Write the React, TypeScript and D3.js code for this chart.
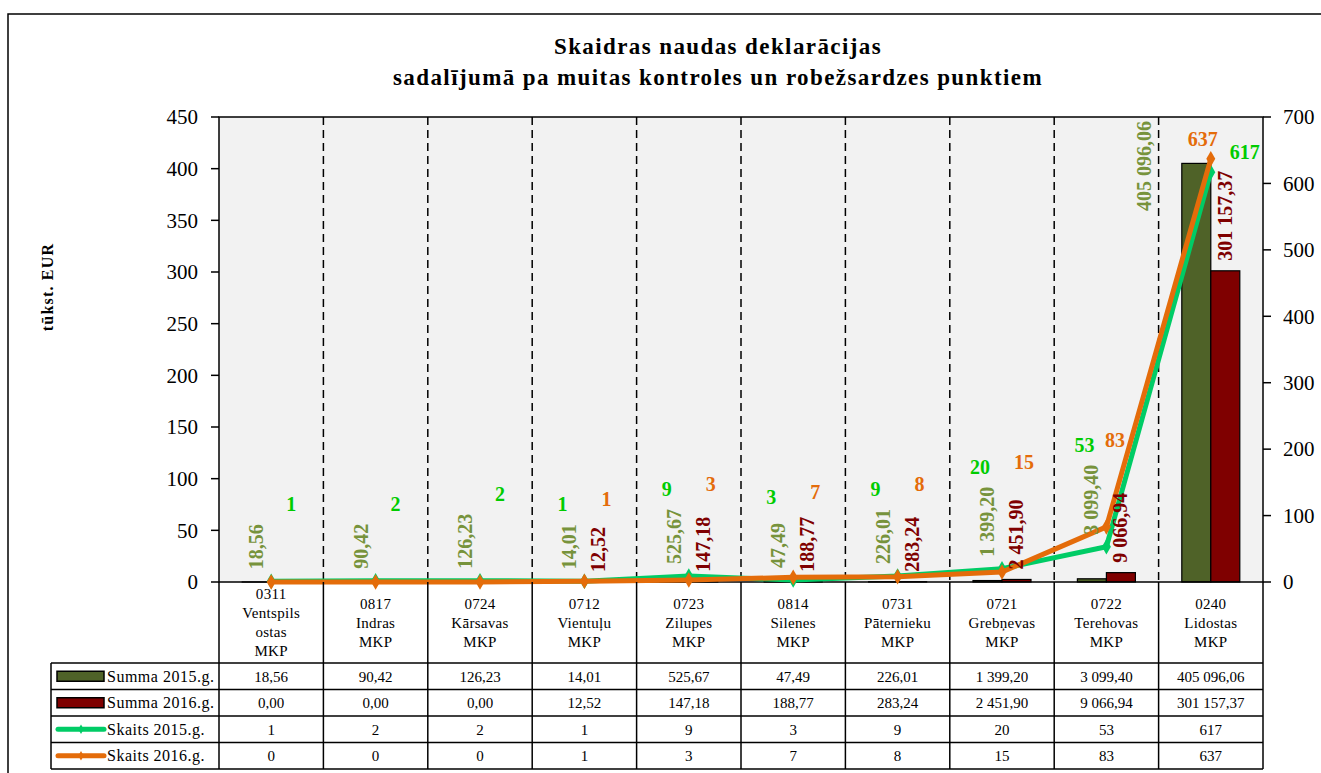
import * as d3 from 'd3';

// Chart data
const categories: string[][] = [
    ['0311', 'Ventspils', 'ostas', 'MKP'],
    ['0817', 'Indras', 'MKP'],
    ['0724', 'Kārsavas', 'MKP'],
    ['0712', 'Vientuļu', 'MKP'],
    ['0723', 'Zilupes', 'MKP'],
    ['0814', 'Silenes', 'MKP'],
    ['0731', 'Pāternieku', 'MKP'],
    ['0721', 'Grebņevas', 'MKP'],
    ['0722', 'Terehovas', 'MKP'],
    ['0240', 'Lidostas', 'MKP'],
];
const summa2015 = [18.56, 90.42, 126.23, 14.01, 525.67, 47.49, 226.01, 1399.20, 3099.40, 405096.06];
const summa2016 = [0, 0, 0, 12.52, 147.18, 188.77, 283.24, 2451.90, 9066.94, 301157.37];
const skaits2015 = [1, 2, 2, 1, 9, 3, 9, 20, 53, 617];
const skaits2016 = [0, 0, 0, 1, 3, 7, 8, 15, 83, 637];
const legendNames = ['Summa 2015.g.', 'Summa 2016.g.', 'Skaits 2015.g.', 'Skaits 2016.g.'];

const W = 1321;
const H = 773;
const plot = { left: 219, right: 1263, top: 117, bottom: 582 };
const tableTop = 663;
const rowH = 26.5;
const legendLeft = 51;

const FONT = '"Liberation Serif", "Times New Roman", serif';
const C = {
    bar15: '#4f6228',
    bar16: '#7f0000',
    lbl15: '#77933c',
    lbl16: '#7f0000',
    line15: '#00cc66',
    line16: '#e46c0a',
    cnt15: '#00cc00',
    cnt16: '#e46c0a',
};

const lv = d3.formatLocale({ decimal: ',', thousands: '\u00a0', grouping: [3], currency: ['', ''] });
const fmt = lv.format(',.2f');

export default function App() {
    const idx = categories.map((_, i) => String(i));
    const x = d3.scaleBand().domain(idx).range([plot.left, plot.right]).padding(0);
    const bw = x.bandwidth();
    const xSub = d3.scaleBand().domain(['2015', '2016']).range([0, bw]).paddingInner(0).paddingOuter(0.8);
    const yL = d3.scaleLinear().domain([0, 450]).range([plot.bottom, plot.top]);
    const yR = d3.scaleLinear().domain([0, 700]).range([plot.bottom, plot.top]);
    const cx = (i: number) => (x(String(i)) as number) + bw / 2;

    const line = d3.line<number>().x((_, i) => cx(i)).y(d => yR(d));
    const diamond = d3.symbol().type(d3.symbolDiamond).size(70)();

    const lblSize = 20;
    // rough width of a bold serif string: digits 0.5em, punctuation/space 0.25em
    const estLen = (s: string) => d3.sum(s.split(''), ch => (/[0-9]/.test(ch) ? 0.5 : 0.25)) * lblSize;

    // summa labels (rotated), placed above the bar / line point
    type SL = { text: string; x: number; bottom: number; top: number; color: string; displaced: boolean };
    const summaLabels = (vals: number[], year: '2015' | '2016', counts: number[], color: string): (SL | null)[] =>
        vals.map((v, i) => {
            if (v === 0) return null;
            const bx = (x(String(i)) as number) + (xSub(year) as number) + xSub.bandwidth() / 2;
            const barTop = yL(v / 1000);
            const text = fmt(v);
            const len = estLen(text);
            let bottom = year === '2015' ? Math.min(barTop, yR(counts[i])) - 12 : barTop - 10;
            let lx = bx;
            let displaced = false;
            if (bottom - len < plot.top) {
                // no room above the bar: move label to the left of it
                displaced = true;
                lx = bx - 52;
                bottom = plot.top + 4 + len;
            }
            return { text, x: lx, bottom, top: bottom - len, color, displaced };
        });
    const s15 = summaLabels(summa2015, '2015', skaits2015, C.lbl15);
    const s16 = summaLabels(summa2016, '2016', skaits2016, C.lbl16);

    // count labels sit above the summa labels of the same category
    const countLabels: { text: string; x: number; y: number; color: string }[] = [];
    categories.forEach((_, i) => {
        const a = s15[i];
        const b = s16[i];
        const lastCol = !!(a && a.displaced);
        const level = Math.min(a ? a.top : plot.bottom, b ? b.top : plot.bottom) - 20;
        if (skaits2015[i] > 0) {
            const dx = skaits2016[i] === 0 ? 20 : lastCol ? 34 : -22;
            const y = lastCol ? yR(skaits2015[i]) - 20 : level;
            countLabels.push({ text: String(skaits2015[i]), x: cx(i) + dx, y, color: C.cnt15 });
        }
        if (skaits2016[i] > 0) {
            const y = lastCol ? yR(skaits2016[i]) - 20 : level - 5;
            let lx = cx(i) + (lastCol ? -8 : 22);
            // keep clear of a steeply rising line on the right
            if (!lastCol && i < categories.length - 1) {
                const y0 = yR(skaits2016[i]);
                const y1 = yR(skaits2016[i + 1]);
                if (y1 < y && y0 > y) {
                    const lineX = cx(i) + ((y0 - y) / (y0 - y1)) * bw;
                    const half = estLen(String(skaits2016[i])) / 2;
                    lx = Math.min(lx, lineX - 6 - half);
                }
            }
            countLabels.push({ text: String(skaits2016[i]), x: lx, y, color: C.cnt16 });
        }
    });

    const bounds = idx.map(i => x(i) as number).concat([plot.right]);
    const tableBottom = tableTop + rowH * 4;
    const rows = [summa2015.map(fmt), summa2016.map(fmt), skaits2015.map(String), skaits2016.map(String)];

    return (
        <svg width={W} height={H} style={{ position: 'absolute', left: 0, top: 0, display: 'block', background: '#fff' }}
             fontFamily={FONT}>
            {/* outer frame */}
            <rect x={8} y={14} width={W + 50} height={H + 50} fill="none" stroke="#000" strokeWidth={1.5} />

            {/* title */}
            <text x={718} y={54} textAnchor="middle" fontSize={23} fontWeight="bold" letterSpacing={1.4}>Skaidras naudas deklarācijas</text>
            <text x={718} y={85} textAnchor="middle" fontSize={23} fontWeight="bold" letterSpacing={1.4}>sadalījumā pa muitas kontroles un robežsardzes punktiem</text>

            {/* y title */}
            <text transform="translate(53,287) rotate(-90)" textAnchor="middle" fontSize={16} fontWeight="bold" letterSpacing={1.2}>tūkst. EUR</text>

            {/* plot area */}
            <rect x={plot.left} y={plot.top} width={plot.right - plot.left} height={plot.bottom - plot.top} fill="#f2f2f2" />
            {bounds.slice(1, -1).map((bx, i) => (
                <line key={'d' + i} x1={bx} x2={bx} y1={plot.top} y2={plot.bottom} stroke="#000" strokeWidth={1.5} strokeDasharray="8,5" />
            ))}

            {/* bars */}
            {summa2015.map((v, i) => (
                <rect key={'b15' + i} x={(x(String(i)) as number) + (xSub('2015') as number)} y={yL(v / 1000)}
                      width={xSub.bandwidth()} height={plot.bottom - yL(v / 1000)} fill={C.bar15} stroke="#000" strokeWidth={1.2} />
            ))}
            {summa2016.map((v, i) => v > 0 && (
                <rect key={'b16' + i} x={(x(String(i)) as number) + (xSub('2016') as number)} y={yL(v / 1000)}
                      width={xSub.bandwidth()} height={plot.bottom - yL(v / 1000)} fill={C.bar16} stroke="#000" strokeWidth={1.2} />
            ))}

            <rect x={plot.left} y={plot.top} width={plot.right - plot.left} height={plot.bottom - plot.top} fill="none" stroke="#000" strokeWidth={1.5} />

            {/* left axis */}
            {yL.ticks(9).map(t => (
                <g key={'l' + t}>
                    <line x1={plot.left - 8} x2={plot.left} y1={yL(t)} y2={yL(t)} stroke="#000" strokeWidth={1.5} />
                    <text x={198} y={yL(t)} dy="0.35em" textAnchor="end" fontSize={21}>{t}</text>
                </g>
            ))}
            {/* right axis */}
            {yR.ticks(7).map(t => (
                <g key={'r' + t}>
                    <line x1={plot.right} x2={plot.right + 8} y1={yR(t)} y2={yR(t)} stroke="#000" strokeWidth={1.5} />
                    <text x={1283} y={yR(t)} dy="0.35em" textAnchor="start" fontSize={21}>{t}</text>
                </g>
            ))}

            {/* lines */}
            <path d={line(skaits2015) as string} fill="none" stroke={C.line15} strokeWidth={5} strokeLinejoin="round" />
            {skaits2015.map((v, i) => (
                <path key={'m15' + i} d={diamond as string} transform={`translate(${cx(i)},${yR(v)})`} fill={C.line15} />
            ))}
            <path d={line(skaits2016) as string} fill="none" stroke={C.line16} strokeWidth={5} strokeLinejoin="round" />
            {skaits2016.map((v, i) => (
                <path key={'m16' + i} d={diamond as string} transform={`translate(${cx(i)},${yR(v)})`} fill={C.line16} />
            ))}

            {/* summa labels */}
            {[...s15, ...s16].map((l, k) => l && (
                <text key={'sl' + k} transform={`translate(${l.x + 6.5},${l.bottom}) rotate(-90)`} fontSize={lblSize}
                      fontWeight="bold" fill={l.color}>{l.text}</text>
            ))}
            {/* count labels */}
            {countLabels.map((l, k) => (
                <text key={'cl' + k} x={l.x} y={l.y} dy="0.35em" textAnchor="middle" fontSize={lblSize} fontWeight="bold" fill={l.color}>{l.text}</text>
            ))}

            {/* category labels */}
            {categories.map((lines, i) => {
                const mid = (plot.bottom + tableTop) / 2;
                const start = mid - ((lines.length - 1) * 19) / 2;
                return (
                    <text key={'c' + i} x={cx(i)} textAnchor="middle" fontSize={15} letterSpacing={0.3}>
                        {lines.map((s, j) => (
                            <tspan key={j} x={cx(i)} y={start + j * 19} dy="0.35em">{s}</tspan>
                        ))}
                    </text>
                );
            })}

            {/* data table */}
            {bounds.map((bx, i) => (
                <line key={'tv' + i} x1={bx} x2={bx} y1={plot.bottom} y2={tableBottom} stroke="#000" strokeWidth={1.5} />
            ))}
            <line x1={legendLeft} x2={legendLeft} y1={tableTop} y2={tableBottom} stroke="#000" strokeWidth={1.5} />
            {[0, 1, 2, 3, 4].map(r => (
                <line key={'th' + r} x1={legendLeft} x2={plot.right} y1={tableTop + r * rowH} y2={tableTop + r * rowH} stroke="#000" strokeWidth={1.5} />
            ))}
            {rows.map((row, r) => row.map((s, i) => (
                <text key={'tc' + r + '_' + i} x={cx(i)} y={tableTop + r * rowH + rowH / 2} dy="0.35em" textAnchor="middle" fontSize={15}>{s}</text>
            )))}
            {legendNames.map((name, r) => {
                const ry = tableTop + r * rowH + rowH / 2;
                const col = [C.bar15, C.bar16, C.line15, C.line16][r];
                return (
                    <g key={'lg' + r}>
                        {r < 2 ? (
                            <rect x={57} y={ry - 5} width={47} height={10} fill={col} stroke="#000" strokeWidth={1.5} />
                        ) : (
                            <g>
                                <line x1={58} x2={104} y1={ry} y2={ry} stroke={col} strokeWidth={5} strokeLinecap="round" />
                                <path d={diamond as string} transform={`translate(81,${ry}) scale(0.6)`} fill={col} />
                            </g>
                        )}
                        <text x={107} y={ry} dy="0.35em" fontSize={16} letterSpacing={0.5}>{name}</text>
                    </g>
                );
            })}
        </svg>
    );
}
